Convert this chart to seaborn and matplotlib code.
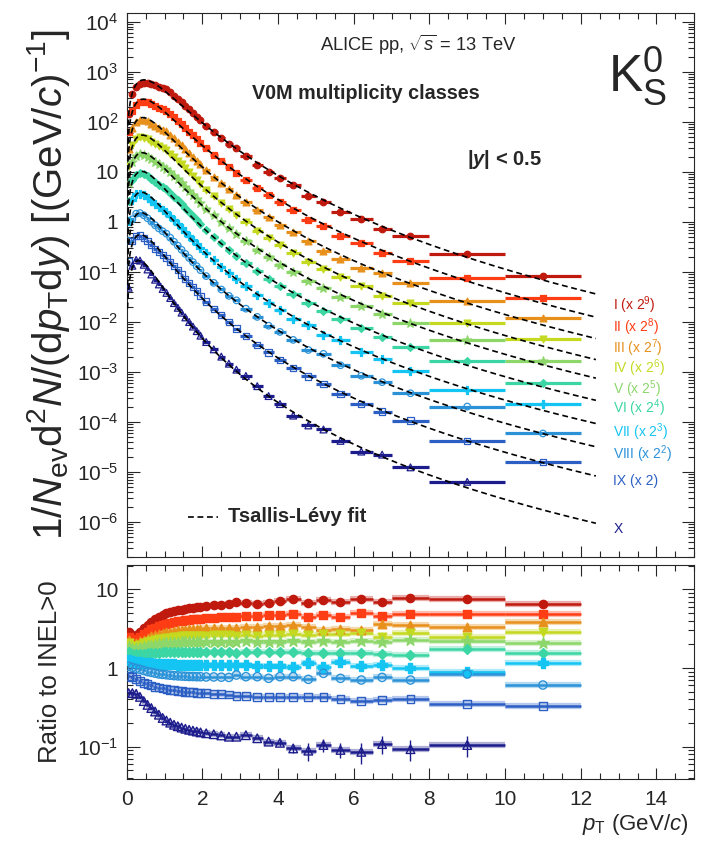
import numpy as np
import pandas as pd
import matplotlib
matplotlib.use("Agg")
import matplotlib.pyplot as plt
from matplotlib.ticker import (LogLocator, MultipleLocator, FixedLocator,
                               FuncFormatter, NullFormatter)
import seaborn as sns

# ---------------------------------------------------------------- data
# pT bin edges (GeV/c)
PT_EDGES = [0.0, 0.1, 0.2, 0.3, 0.4, 0.5, 0.6, 0.7, 0.8, 0.9, 1.0, 1.1, 1.2, 1.3,
            1.4, 1.5, 1.6, 1.7, 1.8, 1.9, 2.0, 2.2, 2.4, 2.6, 2.8, 3.0, 3.3, 3.6,
            3.9, 4.2, 4.6, 5.0, 5.4, 5.9, 6.5, 7.0, 8.0, 10.0, 12.0]

# INEL>0 reference spectrum, 1/Nev d2N/(dpT dy)
INEL_REF = [0.100, 0.275, 0.367, 0.389, 0.363, 0.327, 0.285, 0.248, 0.219, 0.195,
            0.176, 0.148, 0.1245, 0.1047, 0.0871, 0.0724, 0.0603, 0.0501, 0.0417, 0.0347,
            0.0266, 0.0195, 0.01445, 0.01084, 0.00822, 0.00589, 0.00403, 0.00282, 0.00202,
            0.00140, 0.00095, 0.000668, 0.000457, 0.000295, 0.000204, 0.000132, 6.0e-5, 2.4e-5]

CLASSES = ["I", "II", "III", "IV", "V", "VI", "VII", "VIII", "IX", "X"]
SCALE_EXP = [9, 8, 7, 6, 5, 4, 3, 2, 1, 0]

# ratios of each V0M class to INEL>0
RATIO_I = [2.85, 2.55, 2.65, 2.9, 3.2, 3.55, 3.9, 4.2, 4.5, 4.75, 4.95, 5.1, 5.25, 5.4,
           5.5, 5.62, 5.72, 5.82, 5.92, 6.0, 6.1, 6.25, 6.4, 6.55, 6.97, 6.77, 6.5, 6.77,
           7.17, 7.46, 6.77, 7.31, 6.83, 7.46, 6.97, 7.68, 7.5, 6.6]
RATIO_II = [2.45, 2.3, 2.35, 2.5, 2.7, 2.9, 3.1, 3.25, 3.4, 3.55, 3.65, 3.75, 3.85, 3.92,
            4.0, 4.05, 4.1, 4.15, 4.2, 4.25, 4.3, 4.35, 4.4, 4.45, 4.49, 4.58, 4.6, 4.71,
            4.71, 4.86, 4.49, 4.71, 4.49, 5.05, 4.58, 4.86, 4.8, 4.8]
RATIO_III = [2.25, 2.1, 2.1, 2.2, 2.3, 2.42, 2.52, 2.62, 2.7, 2.78, 2.84, 2.9, 2.95, 3.0,
             3.03, 3.06, 3.09, 3.12, 3.14, 3.16, 3.18, 3.2, 3.22, 3.25, 3.19, 3.35, 3.35, 3.4,
             3.4, 3.52, 3.35, 3.04, 3.1, 3.08, 3.62, 3.52, 3.35, 3.88]
RATIO_IV = [2.05, 1.92, 1.92, 1.98, 2.05, 2.12, 2.2, 2.26, 2.32, 2.37, 2.41, 2.44, 2.47, 2.5,
            2.52, 2.54, 2.55, 2.56, 2.57, 2.58, 2.59, 2.6, 2.6, 2.6, 2.55, 2.6, 2.55, 2.6,
            2.63, 2.7, 2.63, 2.7, 2.7, 2.76, 2.5, 2.76, 2.45, 2.9]
RATIO_V = [1.85, 1.75, 1.75, 1.78, 1.83, 1.88, 1.93, 1.97, 2.0, 2.03, 2.06, 2.08, 2.1, 2.11,
           2.12, 2.13, 2.14, 2.15, 2.15, 2.16, 2.16, 2.17, 2.17, 2.16, 2.16, 2.18, 2.15, 2.17,
           2.16, 2.2, 2.15, 2.18, 2.14, 2.2, 2.16, 2.27, 2.22, 2.1]
RATIO_VI = [1.6, 1.52, 1.5, 1.5, 1.52, 1.54, 1.55, 1.56, 1.57, 1.58, 1.58, 1.59, 1.59, 1.6,
            1.6, 1.6, 1.6, 1.6, 1.6, 1.6, 1.6, 1.6, 1.6, 1.58, 1.57, 1.6, 1.58, 1.61,
            1.6, 1.61, 1.55, 1.54, 1.54, 1.57, 1.52, 1.46, 1.73, 1.54]
RATIO_VII = [1.28, 1.22, 1.2, 1.18, 1.17, 1.16, 1.15, 1.14, 1.13, 1.12, 1.12, 1.11, 1.11, 1.1,
             1.1, 1.1, 1.1, 1.1, 1.09, 1.09, 1.09, 1.09, 1.09, 1.08, 1.09, 1.08, 1.06, 1.07,
             1.06, 1.02, 1.15, 1.04, 1.2, 1.06, 1.09, 0.99, 0.9, 1.17]
RATIO_VIII = [1.05, 1.02, 0.99, 0.96, 0.93, 0.9, 0.88, 0.86, 0.84, 0.83, 0.82, 0.81, 0.8, 0.795,
              0.79, 0.785, 0.78, 0.78, 0.775, 0.775, 0.77, 0.77, 0.765, 0.76, 0.815, 0.776, 0.776, 0.74,
              0.776, 0.776, 0.718, 0.855, 0.739, 0.704, 0.76, 0.704, 0.84, 0.608]
RATIO_IX = [0.8, 0.76, 0.72, 0.68, 0.65, 0.62, 0.6, 0.58, 0.565, 0.55, 0.54, 0.53, 0.52, 0.51,
            0.505, 0.5, 0.495, 0.49, 0.485, 0.48, 0.477, 0.47, 0.465, 0.46, 0.445, 0.441, 0.432, 0.432,
            0.424, 0.432, 0.424, 0.432, 0.40, 0.385, 0.392, 0.40, 0.349, 0.329]
RATIO_X = [0.48, 0.48, 0.47, 0.43, 0.38, 0.34, 0.31, 0.28, 0.255, 0.232, 0.215, 0.202, 0.19, 0.182,
           0.175, 0.169, 0.164, 0.16, 0.156, 0.152, 0.148, 0.144, 0.139, 0.134, 0.134, 0.14, 0.128, 0.116,
           0.112, 0.095, 0.089, 0.105, 0.091, 0.086, 0.108, 0.093, 0.105, np.nan]
# relative statistical uncertainty of the class X ratio
RATIO_X_RELERR = [0.02] * 28 + [0.08, 0.12, 0.25, 0.18, 0.22, 0.3, 0.25, 0.3, 0.3, np.nan]

RATIOS = [RATIO_I, RATIO_II, RATIO_III, RATIO_IV, RATIO_V,
          RATIO_VI, RATIO_VII, RATIO_VIII, RATIO_IX, RATIO_X]

COLORS = ["#c0190e", "#ff3d14", "#e8901c", "#c4d920", "#8cd66a",
          "#3cd6a4", "#14c4f2", "#2b92d8", "#2b5fc4", "#1c1c8c"]
MARKERS = ["o", "s", "^", "v", "*", "D", "P", "o", "s", "^"]
FILLED = [True] * 7 + [False] * 3
MSIZE_TOP = [22, 20, 24, 24, 45, 16, 30, 22, 20, 24]

# vertical placement (log10 y) of the class labels at the right
LABEL_LOGY = [-1.60, -2.05, -2.47, -2.875, -3.28, -3.67, -4.145, -4.585, -5.145, -6.105]

# labelled decades on both panels
SPEC_DECADES = [1e-6, 1e-5, 1e-4, 1e-3, 1e-2, 1e-1, 1, 10, 1e2, 1e3, 1e4]
RATIO_DECADES = [0.1, 1, 10]

# ---------------------------------------------------------------- style
sns.set_theme(style="ticks")
plt.rcParams["font.family"] = ["Liberation Sans", "DejaVu Sans"]
plt.rcParams["mathtext.fontset"] = "custom"
plt.rcParams["mathtext.rm"] = "Liberation Sans"
plt.rcParams["mathtext.it"] = "Liberation Sans:italic"
plt.rcParams["mathtext.bf"] = "Liberation Sans:bold"
plt.rcParams["mathtext.bfit"] = "Liberation Sans:italic:bold"
plt.rcParams["axes.linewidth"] = 0.8

edges = np.array(PT_EDGES)
lo, hi = edges[:-1], edges[1:]
centers = 0.5 * (lo + hi)
ref = np.array(INEL_REF)

M_K0 = 0.4976


def tsallis_shape(pt, T, n):
    mt = np.sqrt(pt ** 2 + M_K0 ** 2)
    return pt * (1.0 + (mt - M_K0) / (n * T)) ** (-n)


T_GRID = np.linspace(0.10, 0.40, 121)
N_GRID = np.linspace(3.0, 20.0, 171)


def fit_tsallis(pt, y):
    ok = np.isfinite(y)
    pt, ly = pt[ok], np.log(y[ok])
    tt, nn = np.meshgrid(T_GRID, N_GRID, indexing="ij")
    ls = np.log(tsallis_shape(pt[None, None, :], tt[..., None], nn[..., None]))
    resid = ly - ls
    la = resid.mean(axis=-1)
    chi = ((resid - la[..., None]) ** 2).sum(axis=-1)
    i, j = np.unravel_index(np.argmin(chi), chi.shape)
    return np.exp(la[i, j]), T_GRID[i], N_GRID[j]


def log_fmt(v, _):
    if v <= 0:
        return ""
    e = int(round(np.log10(v)))
    if e == 0:
        return "1"
    if e == 1:
        return "10"
    return r"$10^{%d}$" % e


fig = plt.figure(figsize=(7.02, 8.41), dpi=100)
ax = fig.add_axes([0.1805, 0.3380, 0.8085, 0.6461])
axr = fig.add_axes([0.1805, 0.0743, 0.8085, 0.2539])

pt_line = np.linspace(0.02, 12.4, 500)

for k, name in enumerate(CLASSES):
    c = COLORS[k]
    ratio = np.array(RATIOS[k], dtype=float)
    spec = ratio * ref * 2.0 ** SCALE_EXP[k]
    ok = np.isfinite(spec)
    df = pd.DataFrame({"pt": centers[ok], "spec": spec[ok], "ratio": ratio[ok]})

    # spectra: bin widths, markers and fit
    ax.hlines(df["spec"], lo[ok], hi[ok], color=c, lw=2.3, zorder=2)
    amp, T, n = fit_tsallis(centers, spec)
    ax.plot(pt_line, amp * tsallis_shape(pt_line, T, n), color="black",
            ls=(0, (3.5, 2.2)), lw=1.2, zorder=4)
    face = c if FILLED[k] else "none"
    sns.scatterplot(data=df, x="pt", y="spec", ax=ax, marker=MARKERS[k],
                    s=MSIZE_TOP[k], color=c, edgecolor=c, facecolor=face,
                    linewidth=0.9, zorder=3)

    # ratio panel
    axr.hlines(df["ratio"], lo[ok], hi[ok], color=c, lw=4.5, alpha=0.35, zorder=1)
    axr.hlines(df["ratio"], lo[ok], hi[ok], color=c, lw=1.8, zorder=2)
    if name == "X":
        rel = np.array(RATIO_X_RELERR, dtype=float)
        okr = ok & (rel > 0.05)
        axr.vlines(centers[okr], ratio[okr] * (1 - rel[okr]), ratio[okr] * (1 + rel[okr]),
                   color=c, lw=1.0, zorder=2)
    sns.scatterplot(data=df, x="pt", y="ratio", ax=axr, marker=MARKERS[k],
                    s=MSIZE_TOP[k] * 1.6, color=c, edgecolor=c, facecolor=face,
                    linewidth=1.0, zorder=3)

    # class label at the right
    e = SCALE_EXP[k]
    if e == 0:
        lab = name
    elif e == 1:
        lab = f"{name} (x 2)"
    else:
        lab = f"{name} (x 2$^{{{e}}}$)"
    ax.text(12.86, 10 ** LABEL_LOGY[k], lab, color=c, fontsize=10,
            ha="left", va="center_baseline")

# ---------------------------------------------------------------- axes
for a, decades in ((ax, SPEC_DECADES), (axr, RATIO_DECADES)):
    a.set_xlim(0, 15)
    a.set_yscale("log")
    a.xaxis.set_major_locator(MultipleLocator(2))
    a.xaxis.set_minor_locator(MultipleLocator(0.5))
    a.yaxis.set_major_locator(FixedLocator(decades))
    a.yaxis.set_minor_locator(LogLocator(base=10, subs=np.arange(2, 10), numticks=100))
    a.yaxis.set_major_formatter(FuncFormatter(log_fmt))
    a.yaxis.set_minor_formatter(NullFormatter())
    a.tick_params(which="both", direction="in", top=True, right=True,
                  labelsize=15, width=0.8, pad=6)
    a.tick_params(axis="y", which="major", length=9)
    a.tick_params(axis="y", which="minor", length=4.5)
    a.tick_params(axis="x", which="major", length=8)
    a.tick_params(axis="x", which="minor", length=4)
    for s in a.spines.values():
        s.set_visible(True)
        s.set_linewidth(0.8)

ax.set_ylim(2.0e-7, 1.47e4)
axr.set_ylim(0.0394, 20.4)
ax.xaxis.set_major_formatter(NullFormatter())
ax.tick_params(axis="x", labelbottom=False)
axr.tick_params(axis="x", pad=8)

ax.set_xlabel("")
ax.set_ylabel(r"1/$N_{\rm ev}$d$^{2}$$N$/(d$p_{\rm T}$d$y$) [(GeV/$c$)$^{-1}$]",
              fontsize=29, va="center")
ax.yaxis.set_label_coords(-0.138, 0.5)
axr.set_ylabel("Ratio to INEL>0", fontsize=18.5, va="center")
axr.yaxis.set_label_coords(-0.135, 0.5)
axr.set_xlabel(r"$p_{\rm T}$ (GeV/$c$)", fontsize=16, ha="right", va="center")
axr.xaxis.set_label_coords(0.99, -0.215)

# ---------------------------------------------------------------- annotations
ax.text(0.3406, 0.9417, r"ALICE pp, $\sqrt{s}$ = 13 TeV", transform=ax.transAxes,
        fontsize=13.2, ha="left", va="center")
ax.text(0.2202, 0.8528, "V0M multiplicity classes", transform=ax.transAxes,
        fontsize=14.2, fontweight="bold", ha="left", va="center")
ax.text(0.599, 0.7313, r"|$\mathbfit{y}$| < 0.5", transform=ax.transAxes,
        fontsize=14.5, fontweight="bold", ha="left", va="center")
ax.text(0.8485, 0.855, r"K$^{0}_{\rm S}$", transform=ax.transAxes,
        fontsize=37, ha="left", va="baseline")
ax.plot([0.108, 0.161], [0.0736, 0.0736], transform=ax.transAxes, color="black",
        ls=(0, (3.5, 2.2)), lw=1.2)
ax.text(0.179, 0.0736, "Tsallis-Lévy fit", transform=ax.transAxes,
        fontsize=14.5, fontweight="bold", ha="left", va="center")

fig.savefig("out.png", dpi=100)
